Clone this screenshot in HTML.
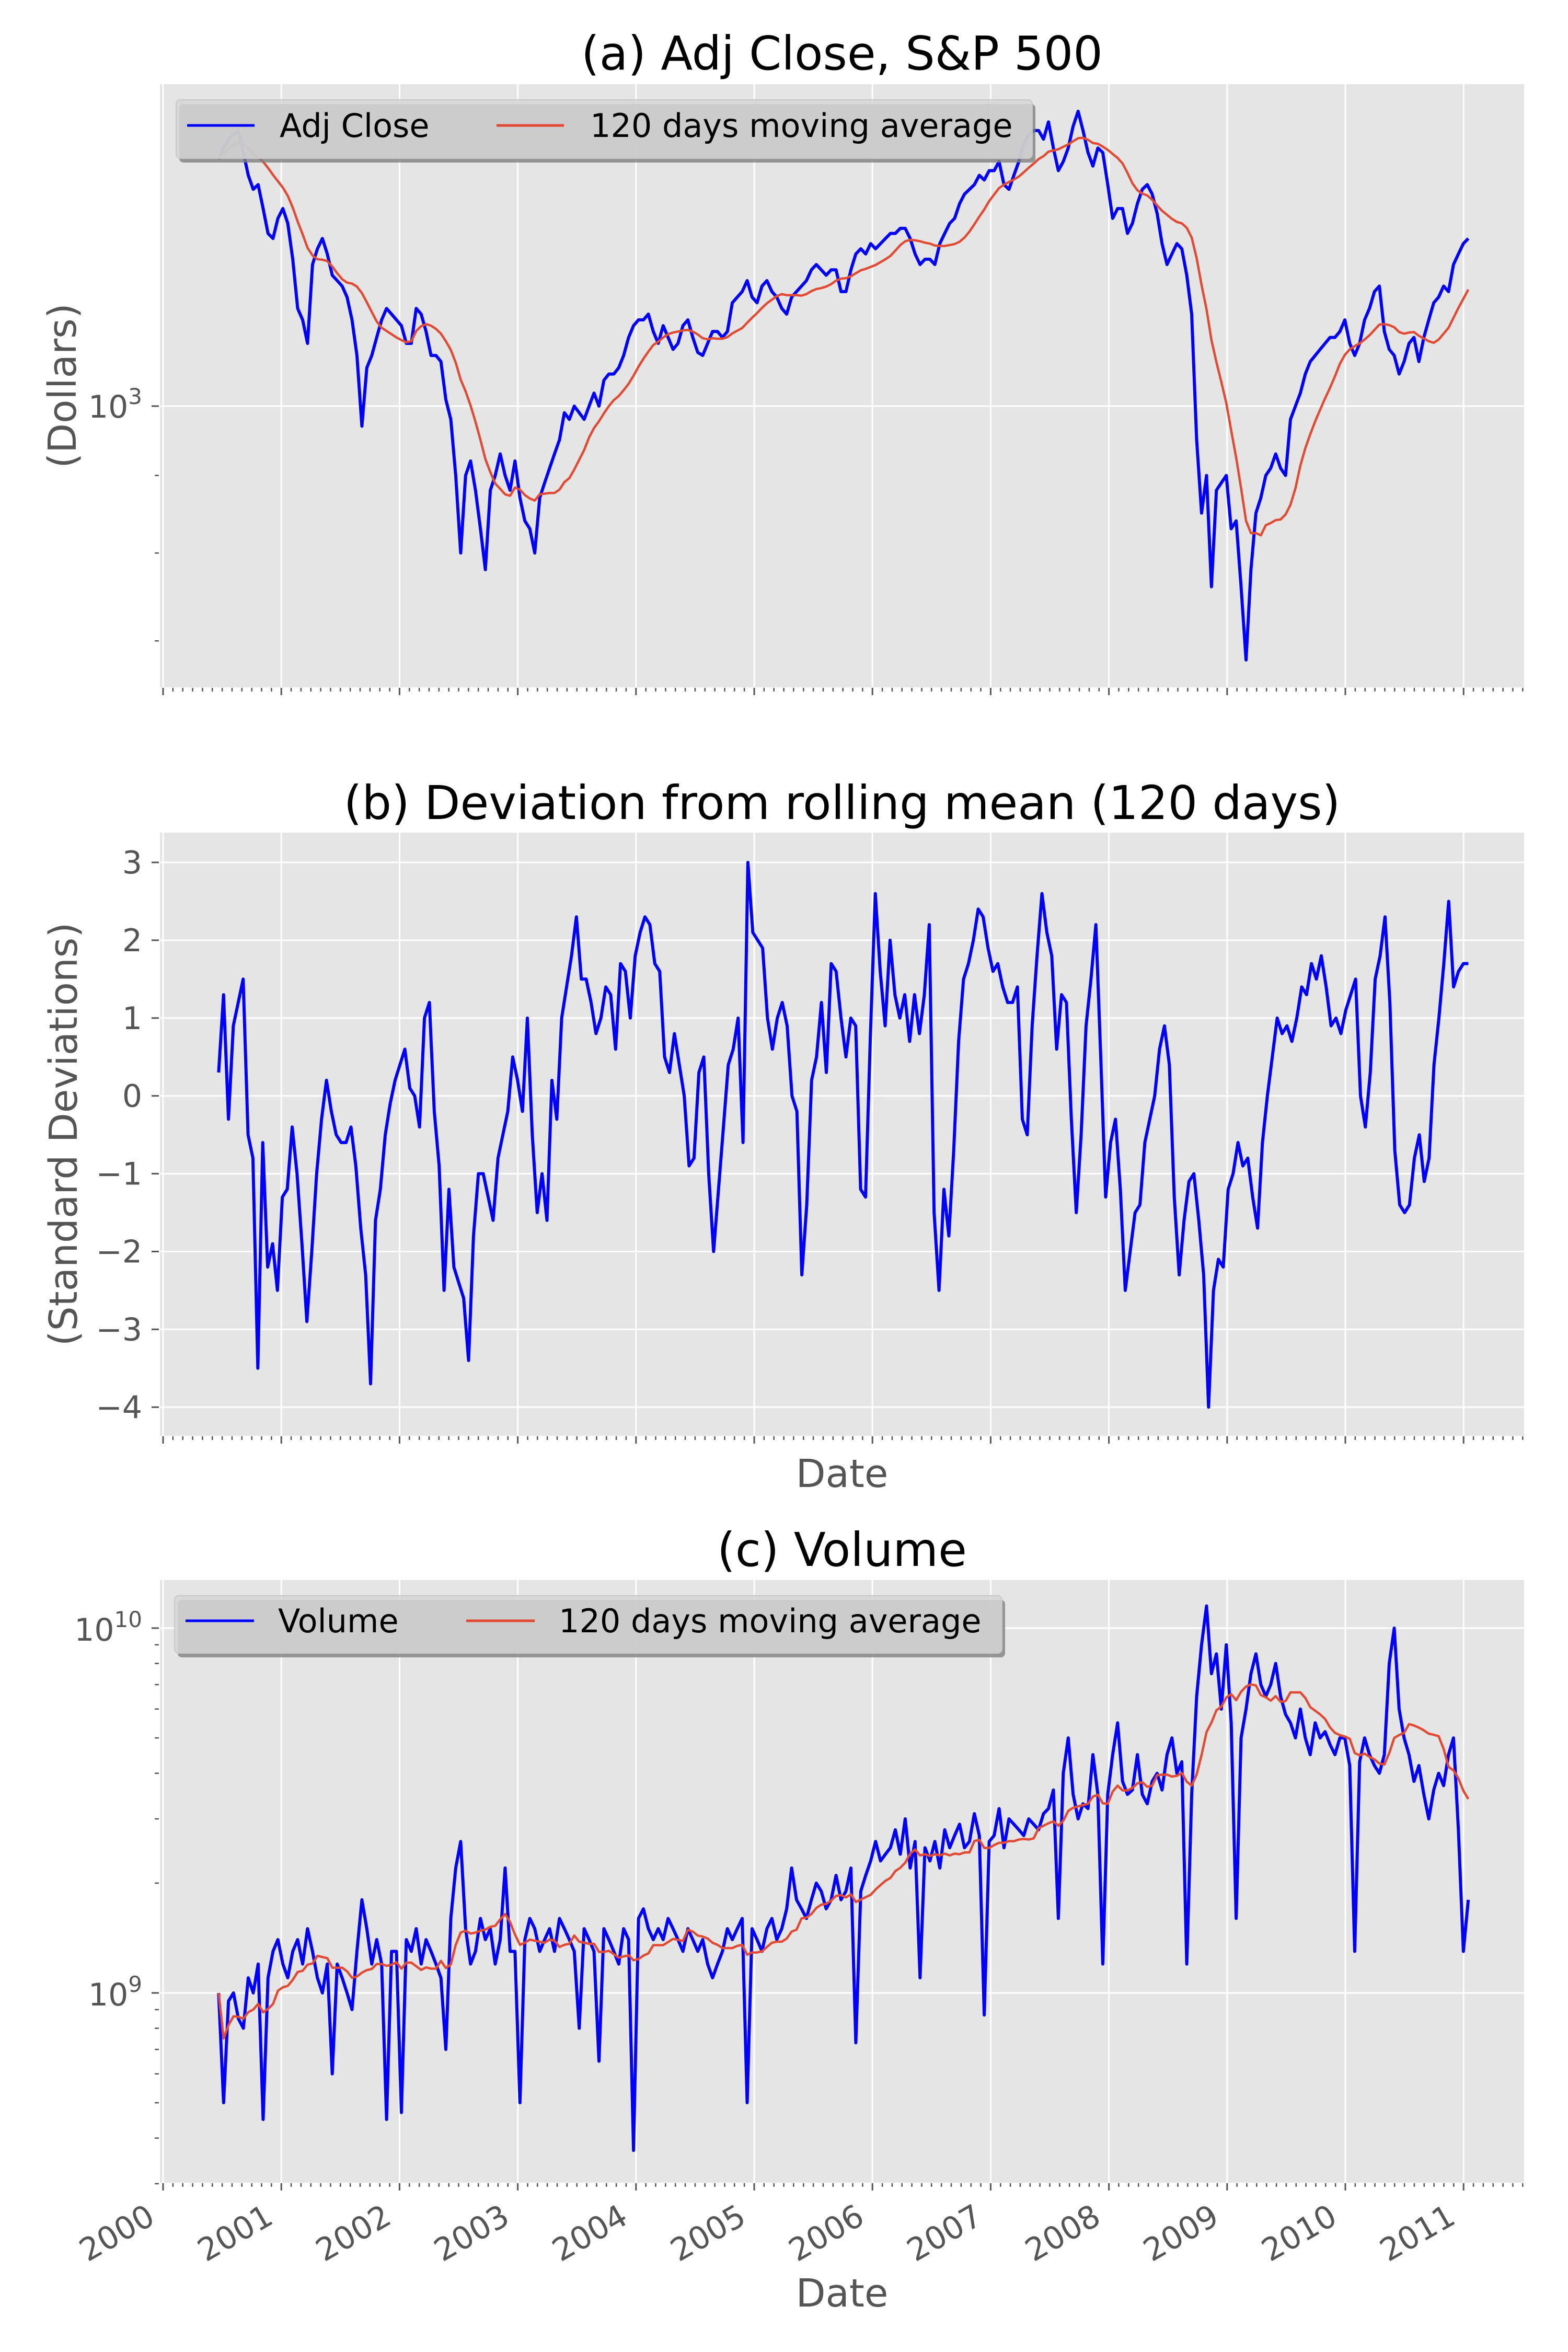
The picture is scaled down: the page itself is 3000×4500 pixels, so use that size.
<!DOCTYPE html>
<html><head><meta charset="utf-8"><style>body{margin:0;background:#fff}svg{display:block}</style></head>
<body>
<svg id="fig" width="3000" height="4500" xmlns="http://www.w3.org/2000/svg" font-family="DejaVu Sans, Liberation Sans, sans-serif">
<defs>
<clipPath id="clipA"><rect x="306" y="161" width="2610" height="1154"/></clipPath>
<clipPath id="clipB"><rect x="306" y="1593" width="2610" height="1154"/></clipPath>
<clipPath id="clipC"><rect x="306" y="3023" width="2610" height="1153"/></clipPath>
</defs>
<rect x="0" y="0" width="3000" height="4500" fill="#fff"/>
<rect x="306" y="161" width="2610" height="1154" fill="#E5E5E5"/>
<rect x="306" y="1593" width="2610" height="1154" fill="#E5E5E5"/>
<rect x="306" y="3023" width="2610" height="1153" fill="#E5E5E5"/>
<g id="grid"></g>
<g id="ticks" stroke="#555" stroke-width="3"></g>
<g id="ticklabels" fill="#555" font-size="60"></g>
<g id="series"></g>

<text x="1611" y="133" font-size="89" text-anchor="middle" fill="#000">(a) Adj Close, S&amp;P 500</text>
<text x="1611" y="1567" font-size="89" text-anchor="middle" fill="#000">(b) Deviation from rolling mean (120 days)</text>
<text x="1611" y="2996" font-size="89" text-anchor="middle" fill="#000">(c) Volume</text>

<text transform="translate(120,738) rotate(-90)" font-size="74" text-anchor="middle" dominant-baseline="central" fill="#555">(Dollars)</text>
<text transform="translate(122,2170) rotate(-90)" font-size="74" text-anchor="middle" dominant-baseline="central" fill="#555">(Standard Deviations)</text>
<text x="1611" y="2845" font-size="74" text-anchor="middle" fill="#555">Date</text>
<text x="1611" y="4413" font-size="74" text-anchor="middle" fill="#555">Date</text>

<g>
<rect x="343" y="199" width="1638" height="112" rx="8" fill="#7f7f7f" fill-opacity="0.8"/>
<rect x="337" y="191" width="1638" height="112" rx="8" fill="#D6D6D6" fill-opacity="0.85" stroke="#C8C8C8" stroke-width="2"/>
<line x1="358" y1="240" x2="487" y2="240" stroke="#0000FF" stroke-width="5"/>
<text x="535" y="262" font-size="62" fill="#000">Adj Close</text>
<line x1="950" y1="240" x2="1079" y2="240" stroke="#E24A33" stroke-width="5"/>
<text x="1129" y="262" font-size="62" fill="#000">120 days moving average</text>
</g>
<g>
<rect x="340" y="3061" width="1583" height="110" rx="8" fill="#7f7f7f" fill-opacity="0.8"/>
<rect x="334" y="3053" width="1583" height="110" rx="8" fill="#D6D6D6" fill-opacity="0.85" stroke="#C8C8C8" stroke-width="2"/>
<line x1="355" y1="3101" x2="486" y2="3101" stroke="#0000FF" stroke-width="5"/>
<text x="532" y="3123" font-size="62" fill="#000">Volume</text>
<line x1="892" y1="3101" x2="1023" y2="3101" stroke="#E24A33" stroke-width="5"/>
<text x="1069" y="3123" font-size="62" fill="#000">120 days moving average</text>
</g>
</svg>
<script>
// ---- data (semi-monthly samples, 2000-06 .. 2011-01) ----
const tStart = 2000.47;
const tEnd = 2011.04;
const c2000 = [1455,1480,1500,1510,1520,1470,1420,1390,1400,1350,1300,1290];
const c2001 = [1330,1350,1320,1250,1160,1140,1100,1240,1270,1290,1260,1220,1210,1200,1180,1140,1080,970,1060,1080,1110,1140,1160,1150];
const c2002 = [1140,1130,1100,1100,1160,1150,1120,1080,1080,1070,1010,980,900,800,900,920,880,830,780,880,900,930,900,880];
const c2003 = [920,870,840,830,800,870,890,910,930,950,990,980,1000,990,980,1000,1020,1000,1040,1050,1050,1060,1080,1110];
const c2004 = [1130,1140,1140,1150,1120,1100,1130,1110,1090,1100,1130,1140,1110,1085,1080,1100,1120,1120,1110,1120,1170,1180,1190,1210];
const c2005 = [1180,1170,1200,1210,1190,1180,1160,1150,1180,1190,1200,1210,1230,1240,1230,1220,1230,1230,1190,1190,1230,1260,1270,1260];
const c2006 = [1280,1270,1280,1290,1300,1300,1310,1310,1290,1260,1240,1250,1250,1240,1280,1300,1320,1330,1360,1380,1390,1400,1420,1410];
const c2007 = [1430,1430,1450,1400,1390,1420,1450,1490,1510,1520,1520,1500,1540,1480,1430,1450,1480,1530,1565,1520,1470,1440,1480,1470];
const c2008 = [1400,1330,1350,1350,1300,1320,1360,1390,1400,1380,1340,1280,1240,1260,1280,1270,1220,1150,950,850,900,760,880,890];
const c2009 = [900,830,840,760,680,780,850,870,900,910,930,910,900,980,1000,1020,1050,1070,1080,1090,1100,1110,1110,1120];
const c2010 = [1140,1100,1080,1100,1140,1160,1190,1200,1120,1090,1080,1050,1070,1100,1110,1070,1110,1140,1170,1180,1200,1190,1240,1260];
const c2011 = [1280,1290];

const devA = [0.3,1.3,-0.3,0.9,1.2,1.5,-0.5,-0.8,-3.5,-0.6,-2.2,-1.9,-2.5,-1.3,-1.2,-0.4,-1.0,-1.9,-2.9,-2.0,-1.0,-0.3,0.2,-0.2,-0.5,-0.6,-0.6,-0.4,-0.9,-1.7,-2.3,-3.7,-1.6,-1.2,-0.5,-0.1,0.2,0.4,0.6,0.1,0.0,-0.4,1.0,1.2,-0.2,-0.9,-2.5,-1.2,-2.2,-2.4,-2.6,-3.4,-1.8,-1.0,-1.0,-1.3,-1.6,-0.8,-0.5,-0.2,0.5,0.2,-0.2,1.0,-0.5,-1.5,-1.0,-1.6,0.2,-0.3,1.0,1.4,1.8,2.3,1.5,1.5,1.2,0.8,1.0,1.4,1.3,0.6,1.7,1.6,1.0,1.8,2.1,2.3,2.2,1.7,1.6,0.5,0.3,0.8,0.4,0.0,-0.9,-0.8,0.3,0.5,-1.0,-2.0,-1.2,-0.4,0.4,0.6,1.0,-0.6,3.0,2.1,2.0,1.9,1.0,0.6,1.0,1.2,0.9,0.0,-0.2,-2.3,-1.4,0.2,0.5,1.2,0.3,1.7,1.6,1.0,0.5];
const devB = [1.0,0.9,-1.2,-1.3,0.8,2.6,1.6,0.9,2.0,1.3,1.0,1.3,0.7,1.3,0.8,1.3,2.2,-1.5,-2.5,-1.2,-1.8,-0.7,0.7,1.5,1.7,2.0,2.4,2.3,1.9,1.6,1.7,1.4,1.2,1.2,1.4,-0.3,-0.5,0.9,1.8,2.6,2.1,1.8,0.6,1.3,1.2,-0.3,-1.5,-0.5,0.9,1.5,2.2,0.5,-1.3,-0.6,-0.3,-1.2,-2.5,-2.0,-1.5,-1.4,-0.6,-0.3,0.0,0.6,0.9,0.4,-1.3,-2.3,-1.6,-1.1,-1.0,-1.6,-2.3,-4.0,-2.5,-2.1,-2.2,-1.2,-1.0,-0.6,-0.9,-0.8,-1.3,-1.7,-0.6,0.0,0.5,1.0,0.8,0.9,0.7,1.0,1.4,1.3,1.7,1.5,1.8,1.4,0.9,1.0,0.8,1.1,1.3,1.5,0.0,-0.4,0.3,1.5,1.8,2.3,1.2,-0.7,-1.4,-1.5,-1.4,-0.8,-0.5,-1.1,-0.8,0.4,1.0,1.7,2.5,1.4,1.6,1.7,1.7];

const v2000 = [1.0,0.5,0.95,1.0,0.85,0.8,1.1,1.0,1.2,0.45,1.1,1.3];
const v2001 = [1.4,1.2,1.1,1.3,1.4,1.2,1.5,1.3,1.1,1.0,1.2,0.6,1.2,1.1,1.0,0.9,1.3,1.8,1.5,1.2,1.4,1.2,0.45,1.3];
const v2002 = [1.3,0.47,1.4,1.3,1.5,1.2,1.4,1.3,1.2,1.1,0.7,1.6,2.2,2.6,1.5,1.2,1.3,1.6,1.4,1.5,1.2,1.4,2.2,1.3];
const v2003 = [1.3,0.5,1.4,1.6,1.5,1.3,1.4,1.5,1.3,1.6,1.5,1.4,1.3,0.8,1.5,1.4,1.3,0.65,1.5,1.4,1.3,1.2,1.5,1.4];
const v2004 = [0.37,1.6,1.7,1.5,1.4,1.5,1.4,1.6,1.5,1.4,1.3,1.5,1.4,1.3,1.4,1.2,1.1,1.2,1.3,1.5,1.4,1.5,1.6,0.5];
const v2005 = [1.5,1.4,1.3,1.5,1.6,1.4,1.5,1.7,2.2,1.8,1.7,1.6,1.8,2.0,1.9,1.7,1.8,2.1,1.8,1.9,2.2,0.73,1.9,2.1];
const v2006 = [2.3,2.6,2.3,2.4,2.5,2.8,2.4,3.0,2.2,2.6,1.1,2.5,2.3,2.6,2.2,2.8,2.5,2.7,2.9,2.5,2.6,3.1,2.7,0.87];
const v2007 = [2.6,2.7,3.2,2.5,3.0,2.9,2.8,2.7,3.0,2.9,2.8,3.1,3.2,3.6,1.6,4.0,5.0,3.5,3.0,3.3,3.2,4.5,3.5,1.2];
const v2008 = [3.5,4.5,5.5,3.8,3.5,3.6,4.5,3.5,3.3,3.8,4.0,3.6,4.5,5.0,4.0,4.3,1.2,3.5,6.5,9.0,11.5,7.5,8.5,6.0];
const v2009 = [9.0,5.5,1.6,5.0,6.0,7.5,8.5,7.0,6.5,7.0,8.0,6.5,5.8,5.5,5.0,6.0,5.0,4.5,5.5,5.0,5.2,4.8,4.5,5.0];
const v2010 = [5.0,4.2,1.3,4.3,5.0,4.5,4.2,4.0,4.5,8.0,10.0,6.0,5.0,4.5,3.8,4.2,3.5,3.0,3.6,4.0,3.7,4.5,5.0,2.8];
const v2011 = [1.3,1.8];

const yearTicks = [2000,2001,2002,2003,2004,2005,2006,2007,2008,2009,2010,2011];
const devTicks = [-4,-3,-2,-1,0,1,2,3];
const maWindow = 11;

// ---- scales ----
const NS = 'http://www.w3.org/2000/svg';
const X0 = 306, X1 = 2916;
const xT = t => 312 + (t - 2000) * 226.2;
const yA = v => 777 - (Math.log10(v) - 3) * 2900;
const yB = v => 1650 + (3 - v) * 148.9;
const yC = v => 3813 - Math.log10(v) * 698; // v in billions
const panels = [{top:161,bot:1315},{top:1593,bot:2747},{top:3023,bot:4176}];

function mk(tag, attrs, parent){
  const e = document.createElementNS(NS, tag);
  for (const k in attrs) e.setAttribute(k, attrs[k]);
  parent.appendChild(e);
  return e;
}
function rolling(a, w){
  return a.map((_, i) => { const s = Math.max(0, i - w + 1); let t = 0; for (let k = s; k <= i; k++) t += a[k]; return t / (i - s + 1); });
}
function times(n){ return Array.from({length:n}, (_, i) => tStart + i * (tEnd - tStart) / (n - 1)); }

const closes = [].concat(c2000,c2001,c2002,c2003,c2004,c2005,c2006,c2007,c2008,c2009,c2010,c2011);
const devs = devA.concat(devB);
const vols = [].concat(v2000,v2001,v2002,v2003,v2004,v2005,v2006,v2007,v2008,v2009,v2010,v2011);

const grid = document.getElementById('grid');
const ticks = document.getElementById('ticks');
const tl = document.getElementById('ticklabels');
const series = document.getElementById('series');

panels.forEach((p, pi) => {
  yearTicks.forEach(y => {
    const g = mk('line', {x1:xT(y), x2:xT(y), y1:p.top, y2:p.bot, stroke:'#fff', 'stroke-width':3}, grid);
    
    
    const t = mk('line', {x1:xT(y), x2:xT(y), y1:p.bot + 1, y2:p.bot + 15}, ticks);
    
    
    for (let m = 1; m < 12; m++) {
      const tm = y + m / 12;
      if (xT(tm) > X1) break;
      const mt = mk('line', {x1:xT(tm), x2:xT(tm), y1:p.bot + 1, y2:p.bot + 8, 'stroke-width':2.5}, ticks);
      
      
    }
  });
});
yearTicks.forEach(y => {
  const x0 = xT(y) - 12, y0 = 4252;
  const t = mk('text', {x:x0, y:y0, 'text-anchor':'end', transform:'rotate(-30 ' + x0 + ' ' + y0 + ')'}, tl);
  t.textContent = String(y);
  
  
});

{
  const g = mk('line', {x1:X0, x2:X1, y1:yA(1000), y2:yA(1000), stroke:'#fff', 'stroke-width':3}, grid);
  
  
  const t = mk('line', {x1:290, x2:304, y1:yA(1000), y2:yA(1000)}, ticks);
  
  
  [700,800,900].forEach(v => {
    const m = mk('line', {x1:296, x2:304, y1:yA(v), y2:yA(v), 'stroke-width':2.5}, ticks);
    
    
  });
  const lab = mk('text', {x:272, y:yA(1000) + 22, 'text-anchor':'end'}, tl);
  lab.innerHTML = '10<tspan dy="-26" font-size="42">3</tspan>';
  
  
}
devTicks.forEach(v => {
  const g = mk('line', {x1:X0, x2:X1, y1:yB(v), y2:yB(v), stroke:'#fff', 'stroke-width':3}, grid);
  
  
  const t = mk('line', {x1:290, x2:304, y1:yB(v), y2:yB(v)}, ticks);
  
  
  const lab = mk('text', {x:272, y:yB(v) + 21, 'text-anchor':'end'}, tl);
  lab.textContent = v < 0 ? '\u2212' + Math.abs(v) : String(v);
  
  
});
[[1,'9'],[10,'10']].forEach(([v, e]) => {
  const g = mk('line', {x1:X0, x2:X1, y1:yC(v), y2:yC(v), stroke:'#fff', 'stroke-width':3}, grid);
  
  
  const t = mk('line', {x1:290, x2:304, y1:yC(v), y2:yC(v)}, ticks);
  
  
  const lab = mk('text', {x:272, y:yC(v) + 24, 'text-anchor':'end'}, tl);
  lab.innerHTML = '10<tspan dy="-26" font-size="42">' + e + '</tspan>';
  
  
});
[0.3,0.4,0.5,0.6,0.7,0.8,0.9,2,3,4,5,6,7,8,9].forEach(v => {
  const m = mk('line', {x1:296, x2:304, y1:yC(v), y2:yC(v), 'stroke-width':2.5}, ticks);
  
  
});

function poly(vals, yf, color, w, clip, name){
  const ts = times(vals.length);
  const pts = vals.map((v, i) => xT(ts[i]).toFixed(1) + ',' + yf(v).toFixed(1)).join(' ');
  const p = mk('polyline', {points:pts, fill:'none', stroke:color, 'stroke-width':w, 'stroke-linejoin':'round', 'clip-path':'url(#' + clip + ')'}, series);
  
  
}
poly(closes, yA, '#0000FF', 6, 'clipA', 'adj-close-line');
poly(rolling(closes, maWindow), yA, '#E24A33', 4.5, 'clipA', 'adj-close-moving-average-line');
poly(devs, yB, '#0000FF', 6, 'clipB', 'deviation-line');
poly(vols, yC, '#0000FF', 6, 'clipC', 'volume-line');
poly(rolling(vols, maWindow), yC, '#E24A33', 4.5, 'clipC', 'volume-moving-average-line');
</script>
</body></html>
